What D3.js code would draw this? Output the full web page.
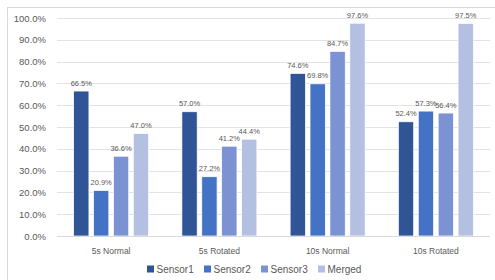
<!DOCTYPE html>
<html>
<head>
<meta charset="utf-8">
<script src="https://cdn.jsdelivr.net/npm/d3@7"></script>
<style>
  html, body { margin: 0; padding: 0; background: #fff; }
  svg { display: block; }
</style>
</head>
<body>
<svg id="chart" width="495" height="280"></svg>
<script>
const categories = ["5s Normal", "5s Rotated", "10s Normal", "10s Rotated"];
const seriesNames = ["Sensor1", "Sensor2", "Sensor3", "Merged"];
const sensor1 = [66.5, 57.0, 74.6, 52.4];
const sensor2 = [20.9, 27.2, 69.8, 57.3];
const sensor3 = [36.6, 41.2, 84.7, 56.4];
const merged  = [47.0, 44.4, 97.6, 97.5];
const yTicks = [0, 10, 20, 30, 40, 50, 60, 70, 80, 90, 100];
const colors = ["#2F5597", "#4472C4", "#7B93D3", "#B4C0E1"];

const seriesValues = [sensor1, sensor2, sensor3, merged];
const svg = d3.select("#chart");
const plotL = 57, plotR = 490, plotT = 18, plotB = 236;

// chart border
svg.append("rect").attr("x", 7.5).attr("y", 7.5).attr("width", 500).attr("height", 300)
  .attr("fill", "none").attr("stroke", "#d9d9d9").attr("stroke-width", 1);

const y = d3.scaleLinear().domain([0, 100]).range([plotB, plotT]);
const x0 = d3.scaleBand().domain(categories).range([plotL, plotR])
  .paddingInner(0.307).paddingOuter(0.1535);
const x1 = d3.scaleBand().domain(seriesNames).range([0, x0.bandwidth()]).paddingInner(0.23);

// gridlines
const yAxis = d3.axisLeft(y).tickValues(yTicks).tickSize(-(plotR - plotL))
  .tickFormat(d => d.toFixed(1) + "%").tickPadding(11);
const gy = svg.append("g").attr("transform", `translate(${plotL},0)`).call(yAxis);
gy.select(".domain").remove();
gy.selectAll(".tick line").attr("stroke", "#e3e3e3").attr("stroke-width", 1)
  .attr("shape-rendering", "crispEdges");
gy.selectAll(".tick text").attr("fill", "#595959")
  .style("font-family", "'Liberation Sans', Arial, sans-serif").style("font-size", "9.5px");

// bars
const groups = svg.append("g").selectAll("g").data(categories).join("g")
  .attr("transform", d => `translate(${x0(d)},0)`);
groups.selectAll("rect")
  .data((c, i) => seriesNames.map((s, j) => ({ s, j, v: seriesValues[j][i] })))
  .join("rect")
  .attr("x", d => x1(d.s))
  .attr("y", d => y(d.v))
  .attr("width", x1.bandwidth())
  .attr("height", d => y(0) - y(d.v))
  .attr("fill", d => colors[d.j])
  .attr("stroke", "#fff").attr("stroke-width", 0.75);

// x axis
const xAxis = d3.axisBottom(x0).tickSize(0).tickPadding(12);
const gx = svg.append("g").attr("transform", `translate(0,${plotB})`).call(xAxis);
gx.select(".domain").attr("stroke", "#d9d9d9").attr("d", `M${plotL},0.5H${plotR}`);
gx.selectAll(".tick text").attr("fill", "#595959")
  .style("font-family", "'Liberation Sans', Arial, sans-serif").style("font-size", "8.5px");

// data labels
groups.selectAll("text.lbl")
  .data((c, i) => seriesNames.map((s, j) => ({ s, j, v: seriesValues[j][i] })))
  .join("text").attr("class", "lbl")
  .attr("x", d => x1(d.s) + x1.bandwidth() / 2)
  .attr("y", d => y(d.v) - 5.5)
  .attr("text-anchor", "middle")
  .attr("fill", "#595959")
  .style("font-family", "'Liberation Sans', Arial, sans-serif").style("font-size", "7.5px")
  .text(d => d.v.toFixed(1) + "%");

// legend
const legend = svg.append("g").attr("transform", "translate(147,0)");
const li = legend.selectAll("g").data(seriesNames).join("g")
  .attr("transform", (d, i) => `translate(${i * 57},0)`);
li.append("rect").attr("x", 0).attr("y", 265.5).attr("width", 7).attr("height", 7)
  .attr("fill", (d, i) => colors[i]);
li.append("text").attr("x", 9.5).attr("y", 272.5).attr("fill", "#595959")
  .style("font-family", "'Liberation Sans', Arial, sans-serif").style("font-size", "10px")
  .text(d => d);
</script>
</body>
</html>
